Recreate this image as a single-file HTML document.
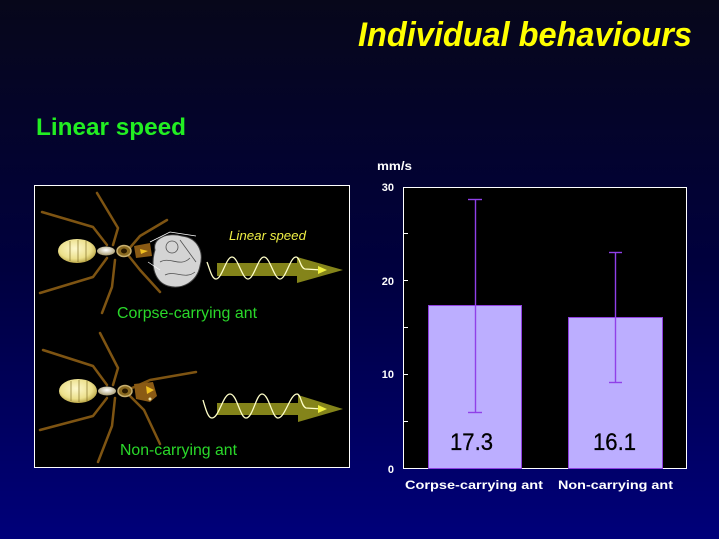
<!DOCTYPE html>
<html><head><meta charset="utf-8"><style>
html,body{margin:0;padding:0;background:#000030;}
svg{display:block;}
</style></head><body>
<svg width="719" height="539" viewBox="0 0 719 539" xmlns="http://www.w3.org/2000/svg" font-family="Liberation Sans, Arial, sans-serif">
<defs>
<linearGradient id="bg" x1="0" y1="0" x2="0" y2="1">
<stop offset="0" stop-color="#07071a"/>
<stop offset="0.5" stop-color="#00003e"/>
<stop offset="1" stop-color="#00007a"/>
</linearGradient>
<radialGradient id="abd" cx="0.45" cy="0.4" r="0.65">
<stop offset="0" stop-color="#fdf8cc"/>
<stop offset="0.65" stop-color="#ece08c"/>
<stop offset="1" stop-color="#b09a38"/>
</radialGradient>
<radialGradient id="thx" cx="0.5" cy="0.4" r="0.6">
<stop offset="0" stop-color="#ffffff"/>
<stop offset="1" stop-color="#a89c70"/>
</radialGradient>
</defs>
<rect width="719" height="539" fill="url(#bg)"/>

<!-- Titles -->
<text x="358" y="46" font-size="34" font-weight="bold" font-style="italic" fill="#ffff00" textLength="334" lengthAdjust="spacingAndGlyphs">Individual behaviours</text>
<text x="36" y="135" font-size="24" font-weight="bold" fill="#22ee22" textLength="150" lengthAdjust="spacingAndGlyphs">Linear speed</text>

<!-- Left image panel -->
<rect x="34.5" y="185.5" width="315" height="282" fill="#000" stroke="#fff" stroke-width="1"/>

<!-- Top ant -->
<g stroke="#7e5412" stroke-width="2.5" fill="none" stroke-linecap="round" stroke-linejoin="round">
<polyline points="42,212 93,227 107,245"/>
<polyline points="97,193 118,228 113,245"/>
<polyline points="167,220 140,236 128,250"/>
<polyline points="40,293 93,277 107,258"/>
<polyline points="102,313 112,287 115,260"/>
<polyline points="160,292 140,270 128,255"/>
</g>
<ellipse cx="77" cy="251" rx="19" ry="12" fill="url(#abd)"/>
<g stroke="#7a6820" stroke-width="0.8" opacity="0.8">
<line x1="70" y1="241" x2="70" y2="261"/><line x1="78" y1="240" x2="78" y2="262"/><line x1="86" y1="241" x2="86" y2="261"/>
</g>
<ellipse cx="106" cy="251" rx="9" ry="4.5" fill="url(#thx)"/>
<ellipse cx="124" cy="251" rx="7" ry="5.5" fill="#8a6a20" stroke="#c8b070" stroke-width="1.5"/>
<ellipse cx="124" cy="251" rx="3" ry="2.5" fill="#2a1a00"/>
<path d="M134,246 L150,243 L152,256 L136,258 Z" fill="#8a5a14"/>
<path d="M140,249 L148,251 L141,254 Z" fill="#f0c020"/>
<!-- corpse -->
<path d="M155,250 C152,238 168,232 182,236 C198,238 204,252 200,266 C197,282 182,290 168,286 C155,282 150,266 155,250 Z" fill="#d4d4d4" stroke="#404040" stroke-width="1"/>
<g stroke="#505050" stroke-width="0.8" fill="none">
<circle cx="172" cy="247" r="6"/>
<path d="M160,262 C170,256 180,268 190,258"/>
<path d="M165,275 C175,270 185,280 195,272"/>
<path d="M180,240 L196,262"/>
</g>
<g stroke="#ffffff" stroke-width="0.7" fill="none">
<path d="M150,242 L170,232 L196,236"/>
<path d="M148,262 L160,270"/>
</g>
<!-- top arrow -->
<rect x="217" y="263" width="82" height="13" fill="#84841a"/>
<polygon points="297,257 343,270 297,283" fill="#84841a"/>
<path d="M207,262 C210,270 212,279 216,279 C222,279 226,257 232,257 C238,257 242,279 248,279 C254,279 258,257 264,257 C270,257 274,279 280,279 C286,279 290,257 296,257 C300,257 300,268 305,269 L322,270" fill="none" stroke="#ffffc8" stroke-width="1.3"/>
<polygon points="318,266 327,270 318,274" fill="#f0f040"/>
<text x="229" y="240" font-size="13" font-style="italic" fill="#eeee44" textLength="77" lengthAdjust="spacingAndGlyphs">Linear speed</text>
<text x="117" y="318" font-size="16" fill="#2ad82a" textLength="140" lengthAdjust="spacingAndGlyphs">Corpse-carrying ant</text>

<!-- Bottom ant -->
<g stroke="#7e5412" stroke-width="2.5" fill="none" stroke-linecap="round" stroke-linejoin="round">
<polyline points="43,350 93,366 107,385"/>
<polyline points="100,333 118,368 113,385"/>
<polyline points="196,372 150,380 132,388"/>
<polyline points="40,430 93,416 107,398"/>
<polyline points="98,462 112,426 115,398"/>
<polyline points="160,444 144,410 130,396"/>
</g>
<ellipse cx="78" cy="391" rx="19" ry="12" fill="url(#abd)"/>
<g stroke="#7a6820" stroke-width="0.8" opacity="0.8">
<line x1="71" y1="381" x2="71" y2="401"/><line x1="79" y1="380" x2="79" y2="402"/><line x1="87" y1="381" x2="87" y2="401"/>
</g>
<ellipse cx="107" cy="391" rx="9" ry="4.5" fill="url(#thx)"/>
<ellipse cx="125" cy="391" rx="7" ry="5.5" fill="#8a6a20" stroke="#c8b070" stroke-width="1.5"/>
<ellipse cx="125" cy="391" rx="3" ry="2.5" fill="#2a1a00"/>
<path d="M134,384 L153,382 L157,396 L150,402 L136,399 Z" fill="#8a5a14"/>
<path d="M146,386 L154,390 L147,394 Z" fill="#f0c020"/>
<circle cx="150" cy="399" r="1.5" fill="#f0e0a0"/>
<!-- bottom arrow -->
<rect x="217" y="403" width="83" height="12" fill="#84841a"/>
<polygon points="298,395 343,409 298,422" fill="#84841a"/>
<path d="M203,400 C206,410 208,418 212,418 C219,418 223,394 230,394 C237,394 240,418 246,418 C253,418 256,394 262,394 C269,394 272,418 278,418 C285,418 290,394 297,394 C301,394 301,406 306,408 L322,409" fill="none" stroke="#ffffc8" stroke-width="1.3"/>
<polygon points="318,405 327,409 318,413" fill="#f0f040"/>
<text x="120" y="455" font-size="16" fill="#2ad82a" textLength="117" lengthAdjust="spacingAndGlyphs">Non-carrying ant</text>

<!-- Chart -->
<text x="377" y="170" font-size="12" font-weight="bold" fill="#fff" textLength="35" lengthAdjust="spacingAndGlyphs">mm/s</text>
<rect x="403.5" y="187.5" width="283" height="281" fill="#000" stroke="#fff" stroke-width="1"/>
<g stroke="#fff" stroke-width="1">
<line x1="403" y1="233.5" x2="408" y2="233.5"/>
<line x1="403" y1="280.5" x2="408" y2="280.5"/>
<line x1="403" y1="327.5" x2="408" y2="327.5"/>
<line x1="403" y1="374.5" x2="408" y2="374.5"/>
<line x1="403" y1="421.5" x2="408" y2="421.5"/>
</g>
<g font-size="11" font-weight="bold" fill="#fff" text-anchor="end">
<text x="394" y="191">30</text>
<text x="394" y="285">20</text>
<text x="394" y="378">10</text>
<text x="394" y="473">0</text>
</g>
<!-- bars -->
<rect x="428.5" y="305.5" width="93" height="163" fill="#bcaeff" stroke="#9040e0" stroke-width="1"/>
<rect x="568.5" y="317.5" width="94" height="151" fill="#bcaeff" stroke="#9040e0" stroke-width="1"/>
<g stroke="#9040e8" stroke-width="1.4">
<line x1="475.5" y1="199" x2="475.5" y2="412"/>
<line x1="468" y1="199.5" x2="482" y2="199.5"/>
<line x1="468" y1="412.5" x2="482" y2="412.5"/>
<line x1="615.5" y1="252" x2="615.5" y2="382"/>
<line x1="609" y1="252.5" x2="622" y2="252.5"/>
<line x1="609" y1="382.5" x2="622" y2="382.5"/>
</g>
<text x="450" y="450" font-size="24" fill="#000" stroke="#000" stroke-width="0.3" textLength="43" lengthAdjust="spacingAndGlyphs">17.3</text>
<text x="593" y="450" font-size="24" fill="#000" stroke="#000" stroke-width="0.3" textLength="43" lengthAdjust="spacingAndGlyphs">16.1</text>
<text x="405" y="489" font-size="12" font-weight="bold" fill="#fff" textLength="138" lengthAdjust="spacingAndGlyphs">Corpse-carrying ant</text>
<text x="558" y="489" font-size="12" font-weight="bold" fill="#fff" textLength="115" lengthAdjust="spacingAndGlyphs">Non-carrying ant</text>
</svg>
</body></html>
